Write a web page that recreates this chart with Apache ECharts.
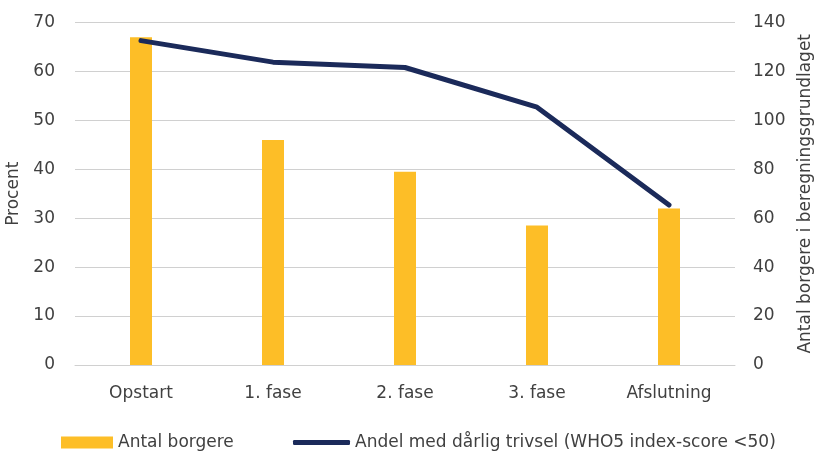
<!DOCTYPE html>
<html><head><meta charset="utf-8">
<script src="https://cdn.jsdelivr.net/npm/echarts@6/dist/echarts.min.js"></script>
<style>html,body{margin:0;padding:0;background:#fff}#c{width:818px;height:451px}</style>
</head><body><div id="c"></div>
<script>
const categories = ['Opstart', '1. fase', '2. fase', '3. fase', 'Afslutning'];
const antalBorgere = [134, 92, 79, 57, 64];
const andelDaarlig = [66.3, 61.9, 60.8, 52.7, 32.7];
const barName = 'Antal borgere';
const lineName = 'Andel med dårlig trivsel (WHO5 index-score <50)';
const font = 'DejaVu Sans';
const fs = 17;
const txt = '#404040';
const chart = echarts.init(document.getElementById('c'));
chart.setOption({
  animation: false,
  textStyle: { fontFamily: font },
  grid: { left: 75, right: 83, top: 22.5, bottom: 86, containLabel: false, outerBoundsMode: 'none' },
  legend: [
    { data: [{ name: barName, icon: 'rect' }], left: 56, top: 429, itemWidth: 52, itemHeight: 12, itemGap: 0, itemTextGap: 5,
      textStyle: { fontFamily: font, fontSize: fs, color: txt } },
    { data: [{ name: lineName, icon: 'roundRect' }], left: 288, top: 429, itemWidth: 57, itemHeight: 5, itemGap: 0, itemTextGap: 2,
      textStyle: { fontFamily: font, fontSize: fs, color: txt } }
  ],
  xAxis: {
    type: 'category', data: categories,
    axisLine: { lineStyle: { color: '#d0d0d0', width: 1 } },
    axisTick: { show: false },
    axisLabel: { color: txt, fontSize: fs, margin: 20 }
  },
  yAxis: [
    { type: 'value', min: 0, max: 70, interval: 10, name: 'Procent', nameLocation: 'middle', nameGap: 46,
      nameTextStyle: { color: txt, fontSize: fs },
      axisLabel: { color: txt, fontSize: fs, margin: 20 },
      splitLine: { lineStyle: { color: '#d0d0d0' } }, axisLine: { show: false }, axisTick: { show: false } },
    { type: 'value', min: 0, max: 140, interval: 20, name: 'Antal borgere i beregningsgrundlaget', nameLocation: 'middle', nameGap: 62,
      nameTextStyle: { color: txt, fontSize: fs },
      axisLabel: { color: txt, fontSize: fs, margin: 18 },
      splitLine: { show: false }, axisLine: { show: false }, axisTick: { show: false } }
  ],
  series: [
    { name: barName, type: 'bar', yAxisIndex: 1, data: antalBorgere, barWidth: 22,
      itemStyle: { color: '#FDBE27' } },
    { name: lineName, type: 'line', yAxisIndex: 0, data: andelDaarlig, symbol: 'none',
      lineStyle: { color: '#1B2A5A', width: 5, cap: 'round', join: 'round' }, itemStyle: { color: '#1B2A5A' } }
  ]
});
</script></body></html>
